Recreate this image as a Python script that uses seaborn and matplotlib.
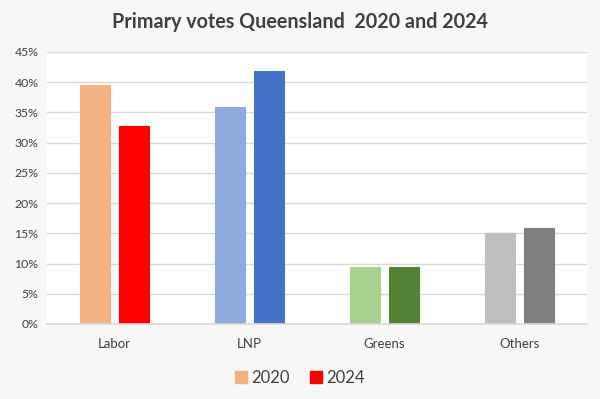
import pandas as pd
import matplotlib.pyplot as plt
import matplotlib.patches as mpatches
import seaborn as sns

parties = ["Labor", "LNP", "Greens", "Others"]
years = ["2020", "2024"]
votes_2020 = [39.6, 35.9, 9.4, 15.0]
votes_2024 = [32.8, 41.9, 9.4, 15.9]

# fmt: off
COLORS_2020 = ["#F4B183", "#8FAADC", "#A9D18E", "#BFBFBF"]
COLORS_2024 = ["#FF0000", "#4472C4", "#548235", "#7F7F7F"]
# fmt: on

df = pd.DataFrame({
    "party": parties * 2,
    "year": [years[0]] * 4 + [years[1]] * 4,
    "vote": votes_2020 + votes_2024,
})

sns.set_theme(style="white")
plt.rcParams["font.family"] = ["Lato", "DejaVu Sans"]

fig = plt.figure(figsize=(6, 3.99), dpi=100)
fig.patch.set_facecolor("#f7f7f7")
ax = fig.add_axes([0.078, 0.188, 0.9, 0.682])
ax.set_facecolor("white")

sns.barplot(data=df, x="party", y="vote", hue="year", order=parties,
            hue_order=years, width=0.57, gap=0.22, ax=ax, legend=False)

# recolour each bar: seaborn draws hue groups in order
for patch, col in zip(ax.patches, COLORS_2020 + COLORS_2024):
    patch.set_facecolor(col)
    patch.set_edgecolor(col)
    patch.set_linewidth(0.8)

ax.set_ylim(0, 45)
ax.set_yticks(range(0, 46, 5))
ax.yaxis.set_major_formatter(plt.FuncFormatter(lambda x, _: f"{int(x)}%"))
ax.grid(axis="y", color="#d9d9d9", linewidth=1)
ax.set_axisbelow(True)
for s in ["top", "right", "left"]:
    ax.spines[s].set_visible(False)
ax.spines["bottom"].set_color("#d9d9d9")
ax.tick_params(axis="y", labelsize=8.8, colors="#404040", length=0, pad=6)
ax.tick_params(axis="x", labelsize=9.5, colors="#404040", length=0, pad=10)
ax.set_xlabel("")
ax.set_ylabel("")

fig.text(0.5, 0.945, "Primary votes Queensland  2020 and 2024",
         ha="center", va="center", fontsize=14.2, fontweight="bold", color="#404040")

handles = [mpatches.Patch(color=COLORS_2020[0], label=years[0]),
           mpatches.Patch(color=COLORS_2024[0], label=years[1])]
fig.legend(handles=handles, loc="center", bbox_to_anchor=(0.5, 0.053), ncol=2,
           frameon=False, fontsize=12, handlelength=0.7, handleheight=0.7,
           handletextpad=0.3, columnspacing=1.2, labelcolor="#404040")

plt.savefig("out.png", dpi=100, facecolor=fig.get_facecolor())
